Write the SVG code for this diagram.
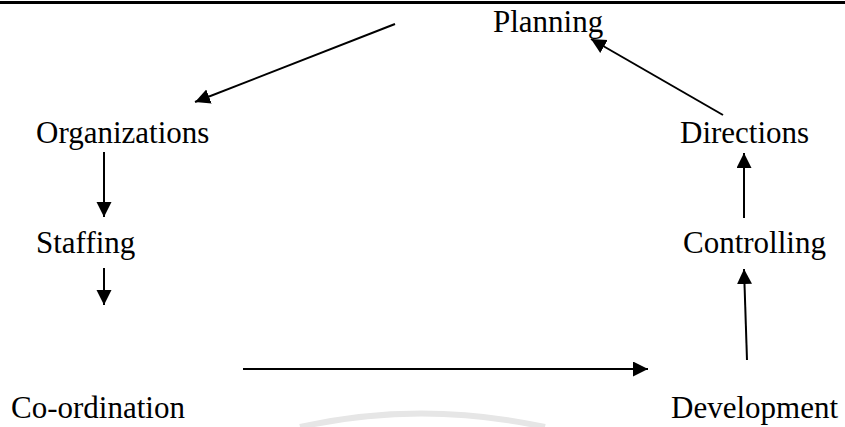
<svg xmlns="http://www.w3.org/2000/svg" width="845" height="427" viewBox="0 0 845 427">
<style>
.t{font-size:31px;fill:#000}
.c{stroke:#000;stroke-width:2;fill:none}
</style>
<defs>
<marker id="ah" markerUnits="userSpaceOnUse" markerWidth="16" markerHeight="16" refX="15" refY="7.5" orient="auto">
<path d="M0,0 L15,7.5 L0,15 Z" fill="#000"/>
</marker>
</defs>
<rect width="845" height="427" fill="#fff"/>
<line x1="0" y1="2.5" x2="845" y2="2.5" stroke="#000" stroke-width="3"/>
<path d="M300 427 Q420 400 545 427" stroke="#e6e6e6" stroke-width="6" fill="none"/>
<g font-family="'Liberation Serif', 'DejaVu Serif', serif">
<g id="planning"><text class="t" x="493" y="32">Planning</text></g>
<g id="organizations"><text class="t" x="36" y="143">Organizations</text></g>
<g id="staffing"><text class="t" x="36" y="253">Staffing</text></g>
<g id="coordination"><text class="t" x="11" y="418">Co-ordination</text></g>
<g id="directions"><text class="t" x="680" y="143">Directions</text></g>
<g id="controlling"><text class="t" x="683" y="253">Controlling</text></g>
<g id="development"><text class="t" x="671" y="418">Development</text></g>
</g>
<g id="connectors">
<line class="c" x1="395" y1="24" x2="195" y2="102" marker-end="url(#ah)"/>
<line class="c" x1="104" y1="152" x2="104" y2="217" marker-end="url(#ah)"/>
<line class="c" x1="104" y1="268" x2="104" y2="305" marker-end="url(#ah)"/>
<line class="c" x1="243" y1="369" x2="648" y2="369" marker-end="url(#ah)"/>
<line class="c" x1="747" y1="360" x2="744" y2="269" marker-end="url(#ah)"/>
<line class="c" x1="744" y1="218" x2="744" y2="153" marker-end="url(#ah)"/>
<line class="c" x1="723" y1="115" x2="591" y2="39" marker-end="url(#ah)"/>
</g>
</svg>
